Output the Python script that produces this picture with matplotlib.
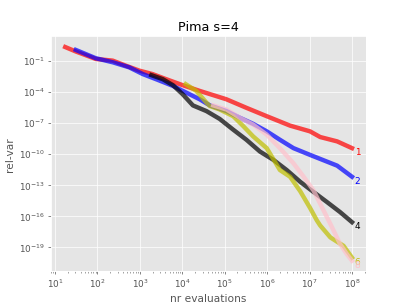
import numpy as np
from matplotlib import pyplot as plt
from matplotlib.ticker import NullLocator

plt.style.use('ggplot')

# log10 of nr evaluations / log10 of rel-var
x1 = [1.24, 1.49, 1.96, 2.36, 2.67, 2.99, 3.30, 3.62, 4.01, 4.41, 5.04, 5.51, 5.99, 6.54, 7.01, 7.25, 7.65, 8.0]
y1 = [0.31, -0.12, -0.84, -1.0, -1.49, -1.97, -2.30, -2.79, -3.37, -3.92, -4.73, -5.55, -6.36, -7.27, -7.82, -8.37, -8.79, -9.44]

x2 = [1.49, 1.96, 2.36, 2.75, 3.07, 3.38, 3.78, 4.09, 4.41, 4.65, 5.04, 5.36, 5.67, 5.99, 6.30, 6.62, 7.01, 7.41, 7.65, 8.0]
y2 = [0.03, -0.77, -1.16, -1.65, -2.30, -2.79, -3.44, -4.08, -4.73, -5.32, -5.87, -6.52, -7.10, -7.82, -8.63, -9.44, -10.09, -10.74, -11.13, -12.2]

x4 = [3.27, 3.54, 3.78, 4.01, 4.25, 4.57, 4.88, 5.20, 5.51, 5.83, 6.15, 6.46, 6.78, 7.09, 7.41, 7.72, 8.0]
y4 = [-2.40, -2.79, -3.37, -4.25, -5.32, -5.87, -6.62, -7.66, -8.63, -9.77, -10.58, -11.55, -12.69, -13.66, -14.64, -15.61, -16.58]

x6 = [4.08, 4.33, 4.57, 4.65, 4.88, 5.20, 5.44, 5.67, 5.99, 6.30, 6.54, 6.78, 7.01, 7.17, 7.25, 7.49, 7.80, 8.0]
y6 = [-3.27, -3.92, -5.06, -5.38, -5.71, -6.36, -7.33, -8.31, -9.44, -11.55, -12.2, -13.6, -15.2, -16.4, -16.9, -18.05, -18.86, -20.0]

x8 = [4.73, 5.04, 5.36, 5.67, 5.99, 6.30, 6.62, 6.86, 7.09, 7.33, 7.49, 7.72, 7.88, 8.0]
y8 = [-5.32, -5.71, -6.52, -7.17, -8.14, -9.44, -10.9, -12.2, -13.5, -15.45, -16.75, -18.7, -19.67, -20.3]

series = [('1', x1, y1, 'r'), ('2', x2, y2, 'b'), ('4', x4, y4, 'k'),
          ('6', x6, y6, 'y'), ('8', x8, y8, 'pink')]

fig, ax = plt.subplots(figsize=(6.4, 4.8), dpi=63.6)

for s, lx, ly, c in series:
    xs = 10.0 ** np.array(lx)
    ys = 10.0 ** np.array(ly)
    ax.loglog(xs, ys, color=c, lw=5, alpha=0.7)
    ax.annotate(s, (xs[-1], ys[-1]), xytext=(3, -5), textcoords='offset points',
                ha='left', va='center', color=c, fontsize=10)

ax.yaxis.set_minor_locator(NullLocator())
ax.set_xlabel('nr evaluations')
ax.set_ylabel('rel-var')
ax.set_title('Pima s=4')

plt.savefig('out.png')
